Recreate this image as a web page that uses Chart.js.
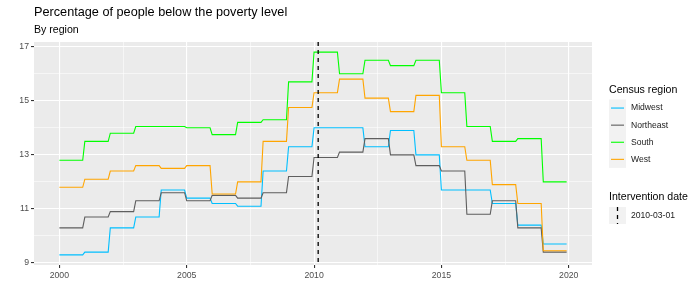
<!DOCTYPE html>
<html>
<head>
<meta charset="utf-8">
<script src="https://cdn.jsdelivr.net/npm/chart.js@4"></script>
<style>
  body { margin: 0; background: #fff; }
  canvas { display: block; }
</style>
</head>
<body>
<canvas id="povertyChart" width="700" height="300"></canvas>
<script>
// annual values (each year is held flat from Jan to Dec)
const years = [2000, 2001, 2002, 2003, 2004, 2005, 2006, 2007, 2008, 2009,
               2010, 2011, 2012, 2013, 2014, 2015, 2016, 2017, 2018, 2019];
const midwest   = [9.3, 9.4, 10.3, 10.7, 11.7, 11.4, 11.2, 11.1, 12.4, 13.3,
                   14.0, 14.0, 13.3, 13.9, 13.0, 11.7, 11.7, 11.2, 10.4, 9.7];
const northeast = [10.3, 10.7, 10.9, 11.3, 11.6, 11.3, 11.5, 11.4, 11.6, 12.2,
                   12.9, 13.1, 13.6, 13.0, 12.6, 12.4, 10.8, 11.3, 10.3, 9.4];
const south     = [12.8, 13.5, 13.8, 14.05, 14.05, 14.0, 13.75, 14.2, 14.3, 15.7,
                   16.8, 16.0, 16.5, 16.3, 16.5, 15.3, 14.05, 13.5, 13.6, 12.0];
const west      = [11.8, 12.1, 12.4, 12.6, 12.5, 12.6, 11.55, 12.0, 13.5, 14.75,
                   15.3, 15.8, 15.1, 14.6, 15.2, 13.3, 12.8, 11.9, 11.2, 9.45];

const regionNames  = ["Midwest", "Northeast", "South", "West"];
const regionColors = ["#00BFFF", "#5E5E5E", "#00FF00", "#FFA500"];

const xTicks = [2000, 2005, 2010, 2015, 2020];
const yTicks = [9, 11, 13, 15, 17];

const interventionLabel = "2010-03-01";
const interventionX = 2010 + 59 / 365;

const FONT = "'Liberation Sans', Arial, sans-serif";

// Jan..Dec of each year -> two points per year, the line slants into the next January
function toMonthly(values) {
    const pts = [];
    years.forEach((yr, i) => {
        pts.push({ x: yr, y: values[i] });
        pts.push({ x: yr + 11 / 12, y: values[i] });
    });
    return pts;
}

// ggplot-like 5% expansion of the data range
const allVals = midwest.concat(northeast, south, west);
const yLo = Math.min(...allVals), yHi = Math.max(...allVals);
const xLo = years[0], xHi = years[years.length - 1] + 11 / 12;
const yPad = (yHi - yLo) * 0.05, xPad = (xHi - xLo) * 0.05;

// major ticks plus the minor ones half way between
function withMinor(major) {
    const out = [];
    major.forEach((v, i) => {
        out.push(v);
        if (i < major.length - 1) out.push((v + major[i + 1]) / 2);
    });
    return out;
}
const isMajor = (list, v) => list.some(t => Math.abs(t - v) < 1e-6);

const ggPlugin = {
    id: 'ggDecor',
    beforeDraw(chart) {
        const { ctx, chartArea: a } = chart;
        ctx.save();
        ctx.fillStyle = '#EBEBEB';
        ctx.fillRect(a.left, a.top, a.right - a.left, a.bottom - a.top);
        ctx.restore();
    },
    afterDatasetsDraw(chart) {
        const { ctx, chartArea: a, scales } = chart;
        const x = scales.x.getPixelForValue(interventionX);
        ctx.save();
        ctx.strokeStyle = '#000';
        ctx.lineWidth = 1.3;
        ctx.setLineDash([4, 4]);
        ctx.beginPath();
        ctx.moveTo(x, a.top);
        ctx.lineTo(x, a.bottom);
        ctx.stroke();
        ctx.restore();
    },
    afterDraw(chart) {
        const ctx = chart.ctx;
        ctx.save();
        ctx.textBaseline = 'middle';
        ctx.textAlign = 'left';

        // titles
        ctx.fillStyle = '#000';
        ctx.font = `12.7px ${FONT}`;
        ctx.fillText("Percentage of people below the poverty level", 34, 12.5);
        ctx.font = `10.6px ${FONT}`;
        ctx.fillText("By region", 34, 30);

        // legend: census region
        const lx = 609;
        ctx.fillText("Census region", lx, 90);
        const rowH = 17.1, top1 = 99.5;
        ctx.fillStyle = '#F2F2F2';
        ctx.fillRect(lx, top1, 17, rowH * 4);
        regionNames.forEach((name, i) => {
            const cy = top1 + rowH * (i + 0.5);
            ctx.strokeStyle = regionColors[i];
            ctx.lineWidth = 1.1;
            ctx.beginPath();
            ctx.moveTo(lx + 2, cy);
            ctx.lineTo(lx + 15, cy);
            ctx.stroke();
            ctx.fillStyle = '#1A1A1A';
            ctx.font = `8.6px ${FONT}`;
            ctx.fillText(name, lx + 22, cy);
        });

        // legend: intervention date
        ctx.fillStyle = '#000';
        ctx.font = `10.6px ${FONT}`;
        ctx.fillText("Intervention date", lx, 197);
        ctx.fillStyle = '#F2F2F2';
        ctx.fillRect(lx, 207, 17, 17);
        ctx.strokeStyle = '#000';
        ctx.lineWidth = 1.3;
        ctx.setLineDash([4, 4]);
        ctx.beginPath();
        ctx.moveTo(lx + 8.5, 207);
        ctx.lineTo(lx + 8.5, 224);
        ctx.stroke();
        ctx.setLineDash([]);
        ctx.fillStyle = '#1A1A1A';
        ctx.font = `8.6px ${FONT}`;
        ctx.fillText(interventionLabel, lx + 22, 215.5);
        ctx.restore();
    }
};

const datasets = regionNames.map((name, i) => ({
    label: name,
    data: toMonthly([midwest, northeast, south, west][i]),
    borderColor: regionColors[i],
    borderWidth: 1.1,
    pointRadius: 0,
    tension: 0,
    order: 4 - i // West drawn last, like ggplot
}));

new Chart(document.getElementById('povertyChart').getContext('2d'), {
    type: 'line',
    data: { datasets: datasets },
    plugins: [ggPlugin],
    options: {
        responsive: false,
        animation: false,
        layout: { padding: { top: 42, right: 108, left: 0, bottom: 0 } },
        plugins: {
            legend: { display: false },
            title: { display: false },
            tooltip: { enabled: false }
        },
        scales: {
            x: {
                type: 'linear',
                min: xLo - xPad,
                max: xHi + xPad,
                afterBuildTicks: s => { s.ticks = withMinor(xTicks).map(v => ({ value: v })); },
                afterFit: s => { s.height = 35; },
                border: { display: false },
                grid: {
                    color: '#FFFFFF',
                    lineWidth: c => isMajor(xTicks, c.tick.value) ? 1.1 : 0.55,
                    tickColor: c => isMajor(xTicks, c.tick.value) ? '#333333' : 'rgba(0,0,0,0)',
                    tickLength: 3,
                    tickWidth: 1.1
                },
                ticks: {
                    autoSkip: false,
                    maxRotation: 0,
                    padding: 2,
                    color: '#4D4D4D',
                    font: { family: FONT, size: 8.7 },
                    callback: v => isMajor(xTicks, v) ? String(v) : ''
                }
            },
            y: {
                min: yLo - yPad,
                max: yHi + yPad,
                afterBuildTicks: s => { s.ticks = withMinor(yTicks).map(v => ({ value: v })); },
                afterFit: s => { s.width = 34; },
                border: { display: false },
                grid: {
                    color: '#FFFFFF',
                    lineWidth: c => isMajor(yTicks, c.tick.value) ? 1.1 : 0.55,
                    tickColor: c => isMajor(yTicks, c.tick.value) ? '#333333' : 'rgba(0,0,0,0)',
                    tickLength: 3,
                    tickWidth: 1.1
                },
                ticks: {
                    autoSkip: false,
                    padding: 2,
                    color: '#4D4D4D',
                    font: { family: FONT, size: 8.7 },
                    callback: v => isMajor(yTicks, v) ? String(v) : ''
                }
            }
        }
    }
});
</script>
</body>
</html>
